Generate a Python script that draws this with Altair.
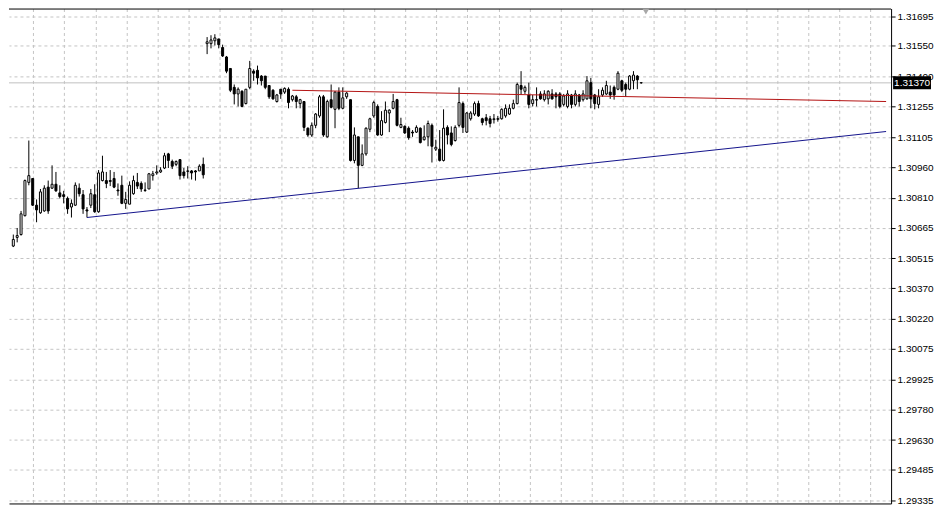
import altair as alt
import pandas as pd

# ---------------- data ----------------
bar_index = list(range(-1, 162))

opens = [
    1.30575, 1.30617, 1.30631, 1.30723, 1.30885, 1.30904, 1.30774, 1.30737, 1.30746, 1.30862,
    1.30857, 1.30876, 1.30834, 1.30825, 1.30807, 1.30765, 1.30774, 1.30857, 1.30825, 1.30751,
    1.30774, 1.30825, 1.30742, 1.30894, 1.30894, 1.30894, 1.30904, 1.30848, 1.30871, 1.30783,
    1.30779, 1.30830, 1.30885, 1.30880, 1.30848, 1.30853, 1.30918, 1.30931, 1.30936, 1.30955,
    1.31024, 1.30987, 1.30973, 1.30996, 1.30936, 1.30941, 1.30941, 1.30941, 1.30941, 1.30973,
    1.31561, 1.31561, 1.31575, 1.31584, 1.31542, 1.31496, 1.31440, 1.31348, 1.31316, 1.31329,
    1.31269, 1.31348, 1.31427, 1.31431, 1.31403, 1.31403, 1.31357, 1.31334, 1.31279, 1.31339,
    1.31325, 1.31339, 1.31288, 1.31302, 1.31269, 1.31279, 1.31149, 1.31116, 1.31163, 1.31209,
    1.31302, 1.31107, 1.31288, 1.31241, 1.31325, 1.31246, 1.31302, 1.31288, 1.30992, 1.31107,
    1.30968, 1.31024, 1.31144, 1.31209, 1.31255, 1.31116, 1.31177, 1.31223, 1.31246, 1.31288,
    1.31153, 1.31158, 1.31149, 1.31130, 1.31130, 1.31149, 1.31093, 1.31107, 1.31163, 1.31047,
    1.31047, 1.30992, 1.31153, 1.31126, 1.31089, 1.31163, 1.31269, 1.31130, 1.31195, 1.31218,
    1.31269, 1.31195, 1.31200, 1.31195, 1.31191, 1.31195, 1.31195, 1.31209, 1.31218, 1.31246,
    1.31269, 1.31357, 1.31329, 1.31311, 1.31269, 1.31288, 1.31316, 1.31288, 1.31292, 1.31316,
    1.31316, 1.31316, 1.31265, 1.31255, 1.31311, 1.31265, 1.31311, 1.31288, 1.31292, 1.31371,
    1.31311, 1.31265, 1.31311, 1.31316, 1.31325, 1.31348, 1.31339, 1.31380, 1.31362, 1.31339,
    1.31380, 1.31403, 1.31371,
]

highs = [
    1.30631, 1.30663, 1.30746, 1.30899, 1.31089, 1.30904, 1.30802, 1.30853, 1.30871, 1.30894,
    1.30968, 1.30936, 1.30871, 1.30844, 1.30816, 1.30802, 1.30885, 1.30880, 1.30848, 1.30765,
    1.30853, 1.30876, 1.30945, 1.31015, 1.30936, 1.30945, 1.30936, 1.30880, 1.30918, 1.30839,
    1.30890, 1.30918, 1.30931, 1.30890, 1.30885, 1.30931, 1.30941, 1.30968, 1.30959, 1.31029,
    1.31029, 1.30996, 1.30992, 1.30996, 1.30955, 1.30964, 1.30945, 1.30945, 1.30973, 1.31006,
    1.31593, 1.31602, 1.31607, 1.31584, 1.31556, 1.31501, 1.31440, 1.31362, 1.31348, 1.31334,
    1.31339, 1.31477, 1.31436, 1.31454, 1.31408, 1.31403, 1.31357, 1.31339, 1.31316, 1.31339,
    1.31348, 1.31348, 1.31311, 1.31311, 1.31292, 1.31279, 1.31153, 1.31177, 1.31223, 1.31311,
    1.31311, 1.31288, 1.31362, 1.31329, 1.31348, 1.31348, 1.31325, 1.31288, 1.31153, 1.31107,
    1.31070, 1.31153, 1.31200, 1.31283, 1.31265, 1.31232, 1.31279, 1.31241, 1.31316, 1.31292,
    1.31200, 1.31163, 1.31158, 1.31140, 1.31163, 1.31153, 1.31163, 1.31186, 1.31172, 1.31093,
    1.31140, 1.31241, 1.31163, 1.31158, 1.31163, 1.31348, 1.31279, 1.31228, 1.31232, 1.31279,
    1.31283, 1.31200, 1.31218, 1.31209, 1.31218, 1.31209, 1.31246, 1.31265, 1.31265, 1.31288,
    1.31371, 1.31427, 1.31357, 1.31371, 1.31311, 1.31348, 1.31329, 1.31334, 1.31334, 1.31339,
    1.31325, 1.31325, 1.31316, 1.31334, 1.31316, 1.31334, 1.31316, 1.31334, 1.31403, 1.31394,
    1.31316, 1.31339, 1.31348, 1.31380, 1.31357, 1.31357, 1.31427, 1.31385, 1.31371, 1.31408,
    1.31427, 1.31408, 1.31371,
]

lows = [
    1.30570, 1.30593, 1.30626, 1.30719, 1.30871, 1.30770, 1.30691, 1.30732, 1.30742, 1.30732,
    1.30853, 1.30839, 1.30807, 1.30783, 1.30732, 1.30714, 1.30770, 1.30816, 1.30732, 1.30714,
    1.30760, 1.30737, 1.30737, 1.30890, 1.30857, 1.30867, 1.30857, 1.30820, 1.30779, 1.30756,
    1.30779, 1.30825, 1.30853, 1.30839, 1.30839, 1.30853, 1.30894, 1.30922, 1.30931, 1.30950,
    1.30955, 1.30950, 1.30964, 1.30899, 1.30904, 1.30904, 1.30899, 1.30894, 1.30941, 1.30904,
    1.31510, 1.31538, 1.31552, 1.31538, 1.31496, 1.31417, 1.31325, 1.31265, 1.31255, 1.31251,
    1.31265, 1.31339, 1.31380, 1.31362, 1.31357, 1.31339, 1.31292, 1.31288, 1.31274, 1.31292,
    1.31316, 1.31246, 1.31279, 1.31246, 1.31246, 1.31135, 1.31107, 1.31107, 1.31149, 1.31200,
    1.31107, 1.31103, 1.31246, 1.31149, 1.31237, 1.31241, 1.31292, 1.30987, 1.30978, 1.30857,
    1.30964, 1.31015, 1.31130, 1.31200, 1.31112, 1.31112, 1.31172, 1.31130, 1.31241, 1.31158,
    1.31149, 1.31121, 1.31093, 1.31107, 1.31126, 1.31075, 1.31089, 1.31061, 1.30982, 1.31038,
    1.30987, 1.30987, 1.31070, 1.31061, 1.31084, 1.31153, 1.31126, 1.31126, 1.31186, 1.31209,
    1.31204, 1.31163, 1.31163, 1.31153, 1.31172, 1.31181, 1.31191, 1.31200, 1.31214, 1.31241,
    1.31265, 1.31311, 1.31316, 1.31246, 1.31255, 1.31255, 1.31288, 1.31279, 1.31265, 1.31288,
    1.31246, 1.31246, 1.31255, 1.31246, 1.31246, 1.31255, 1.31255, 1.31279, 1.31288, 1.31246,
    1.31241, 1.31246, 1.31302, 1.31311, 1.31292, 1.31288, 1.31334, 1.31325, 1.31302, 1.31334,
    1.31339, 1.31339, 1.31366,
]

closes = [
    1.30607, 1.30626, 1.30732, 1.30894, 1.30918, 1.30774, 1.30751, 1.30839, 1.30857, 1.30746,
    1.30876, 1.30844, 1.30816, 1.30816, 1.30756, 1.30783, 1.30871, 1.30830, 1.30756, 1.30746,
    1.30830, 1.30742, 1.30931, 1.30936, 1.30880, 1.30890, 1.30862, 1.30844, 1.30783, 1.30802,
    1.30871, 1.30894, 1.30867, 1.30853, 1.30846, 1.30927, 1.30927, 1.30936, 1.30945, 1.31015,
    1.30992, 1.30964, 1.30987, 1.30918, 1.30918, 1.30939, 1.30931, 1.30936, 1.30964, 1.30922,
    1.31570, 1.31579, 1.31589, 1.31556, 1.31501, 1.31427, 1.31334, 1.31316, 1.31339, 1.31255,
    1.31339, 1.31440, 1.31417, 1.31394, 1.31380, 1.31348, 1.31302, 1.31292, 1.31311, 1.31316,
    1.31343, 1.31274, 1.31306, 1.31279, 1.31288, 1.31153, 1.31116, 1.31163, 1.31218, 1.31302,
    1.31116, 1.31279, 1.31251, 1.31325, 1.31246, 1.31297, 1.31320, 1.30992, 1.31116, 1.30968,
    1.31024, 1.31149, 1.31195, 1.31274, 1.31116, 1.31186, 1.31237, 1.31237, 1.31279, 1.31163,
    1.31167, 1.31126, 1.31103, 1.31126, 1.31153, 1.31079, 1.31107, 1.31172, 1.31061, 1.31056,
    1.30992, 1.31149, 1.31116, 1.31070, 1.31153, 1.31274, 1.31153, 1.31223, 1.31223, 1.31269,
    1.31209, 1.31177, 1.31186, 1.31172, 1.31195, 1.31193, 1.31241, 1.31246, 1.31246, 1.31269,
    1.31362, 1.31339, 1.31348, 1.31265, 1.31288, 1.31286, 1.31292, 1.31316, 1.31329, 1.31292,
    1.31302, 1.31255, 1.31306, 1.31316, 1.31265, 1.31316, 1.31279, 1.31316, 1.31380, 1.31292,
    1.31269, 1.31302, 1.31334, 1.31357, 1.31311, 1.31311, 1.31417, 1.31334, 1.31339, 1.31403,
    1.31408, 1.31385, 1.31370,
]

y_tick_values = [
    1.31695, 1.31550, 1.31400, 1.31255, 1.31105, 1.30960, 1.30810, 1.30665, 1.30515,
    1.30370, 1.30220, 1.30075, 1.29925, 1.29780, 1.29630, 1.29485, 1.29335,
]
x_grid_values = [4.175 + 8 * k for k in range(28)]

bid_price = [1.31370]
red_trend_index = [71, 224.175]
red_trend_price = [1.31334, 1.31279]
blue_trend_index = [18, 224.175]
blue_trend_price = [1.30714, 1.31133]
shift_marker_index = [162.2]

# ---------------- layout / style ----------------
W, H = 884, 496
GRID = "#c4c4c4"
FONT = "Liberation Sans"

candles = pd.DataFrame({"i": bar_index, "open": opens, "high": highs,
                        "low": lows, "close": closes})

x_scale = alt.Scale(domain=[-0.825, 224.175], nice=False, zero=False)
y_scale = alt.Scale(domain=[1.29321, 1.31732], nice=False, zero=False)

x_axis = alt.Axis(values=x_grid_values, labels=False, ticks=False, domain=True,
                  domainColor="#000000", domainWidth=1, grid=True, gridColor=GRID,
                  gridDash=[3, 3], gridWidth=1, title=None)
y_axis = alt.Axis(orient="right", values=y_tick_values, format=".5f", grid=True,
                  gridColor=GRID, gridDash=[3, 3], gridWidth=1, domain=True,
                  domainColor="#000000", domainWidth=1, ticks=True, tickColor="#000000",
                  tickSize=4, labelColor="#000000", labelFont=FONT, labelFontSize=10,
                  labelPadding=2, labelOverlap=False, labelFlush=False, title=None)


def X(field):
    return alt.X(field, type="quantitative", scale=x_scale, axis=x_axis)


def Y(field):
    return alt.Y(field, type="quantitative", scale=y_scale, axis=y_axis)


base = alt.Chart(candles)

wicks = base.mark_rule(color="#000000", strokeWidth=1, clip=True).encode(
    x=X("i"), y=Y("low"), y2="high",
)

bodies = base.mark_bar(size=2, stroke="#000000", strokeWidth=1, clip=True).encode(
    x=X("i"), y=Y("open"), y2="close",
    fill=alt.condition("datum.close >= datum.open", alt.value("#ffffff"), alt.value("#000000")),
)

bid_df = pd.DataFrame({"price": bid_price})
bid_line = alt.Chart(bid_df).mark_rule(color="#c0c0c0", strokeWidth=1).encode(y=Y("price"))

red_df = pd.DataFrame({"i": red_trend_index, "price": red_trend_price})
red_line = alt.Chart(red_df).mark_line(color="#b41414", strokeWidth=1, clip=True).encode(
    x=X("i"), y=Y("price"),
)

blue_df = pd.DataFrame({"i": blue_trend_index, "price": blue_trend_price})
blue_line = alt.Chart(blue_df).mark_line(color="#14148c", strokeWidth=1, clip=True).encode(
    x=X("i"), y=Y("price"),
)

top_border = alt.Chart(pd.DataFrame({"k": [0]})).mark_rule(
    color="#000000", strokeWidth=1
).encode(x=alt.value(0), x2=alt.value(W), y=alt.value(0.5))

shift_marker = alt.Chart(pd.DataFrame({"i": shift_marker_index})).mark_point(
    shape="triangle-down", filled=True, color="#a8a8a8", opacity=1, size=45
).encode(x=X("i"), y=alt.value(3))

bid_box = alt.Chart(bid_df).mark_point(
    shape="M-1.46,-0.5H1.46V0.5H-1.46Z", filled=True, color="#000000", opacity=1, size=676
).encode(x=alt.value(W + 21), y=Y("price"))

bid_text = alt.Chart(bid_df).mark_text(
    align="left", baseline="middle", color="#ffffff", font=FONT, fontSize=10
).encode(
    x=alt.value(W + 3),
    y=Y("price"),
    text=alt.Text("price:Q", format=".5f"),
)

chart = (
    alt.layer(bid_line, wicks, bodies, red_line, blue_line, top_border,
              shift_marker, bid_box, bid_text)
    .properties(width=W, height=H, padding=0, background="#ffffff")
    .configure_view(strokeWidth=0)
)

chart.save("out.html", embed_options={"renderer": "svg", "actions": False})
